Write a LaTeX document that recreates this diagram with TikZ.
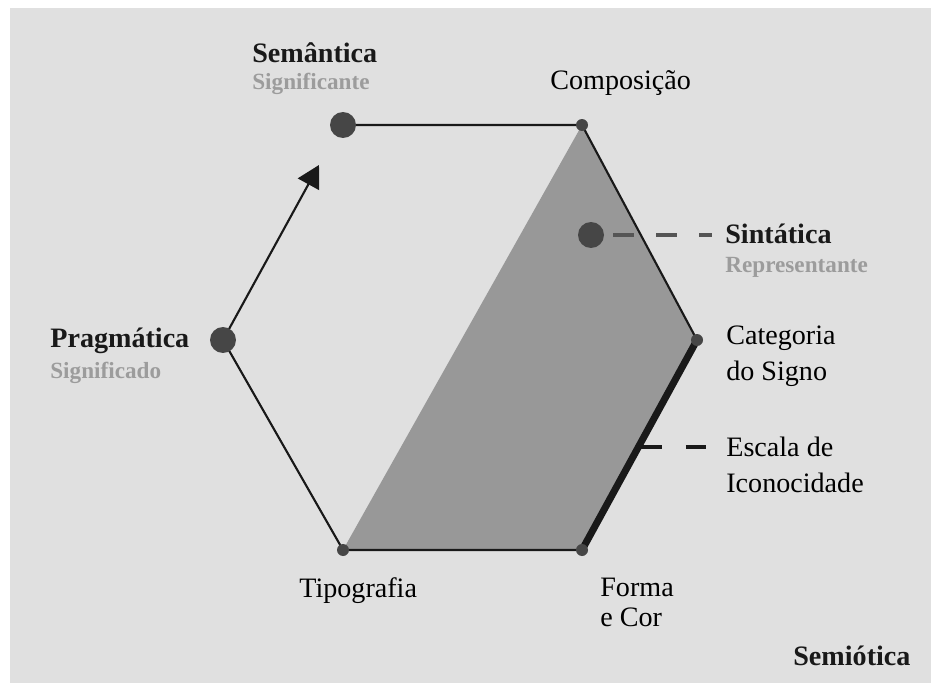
\documentclass[tikz,border=0pt]{standalone}
\usepackage{fontspec}
\setmainfont{Liberation Serif}
\usetikzlibrary{arrows.meta}

\definecolor{bggrey}{HTML}{E0E0E0}
\definecolor{shadegrey}{HTML}{989898}
\definecolor{dotgrey}{HTML}{464646}
\definecolor{subgrey}{HTML}{9C9C9C}
\definecolor{dashgrey}{HTML}{555555}

\tikzset{
    bigdot/.style={circle, fill=dotgrey, minimum size=0.52cm, inner sep=0pt},
    smalldot/.style={circle, fill=dotgrey, minimum size=0.24cm, inner sep=0pt},
    hexline/.style={line width=1.2pt, black!90},
    lbl/.style={anchor=base west, inner sep=0pt, align=left,
        font=\fontsize{16}{20}\selectfont},
    headlbl/.style={lbl, font=\fontsize{16}{20}\selectfont\bfseries, text=black!90},
    sublbl/.style={lbl, font=\fontsize{13.2}{15}\selectfont\bfseries, text=subgrey}
}

\begin{document}
\begin{tikzpicture}[x=0.02cm, y=-0.02cm]
    \useasboundingbox (0,0) rectangle (941,693);
    \fill[bggrey] (10,8) rectangle (931,683);

    % corners of the hexagon
    \coordinate (sem) at (343,125);
    \coordinate (comp) at (582,125);
    \coordinate (cat) at (697,340);
    \coordinate (forma) at (582,550);
    \coordinate (tipo) at (343,550);
    \coordinate (prag) at (223,340);
    \coordinate (arrtip) at (319,165);
    \coordinate (esc) at (640,447);

    % shaded part
    \fill[shadegrey] (comp) -- (cat) -- (forma) -- (tipo) -- cycle;

    % sides
    \draw[hexline] (sem) -- (comp) -- (cat);
    \draw[line width=4pt, black!90] (cat) -- (forma);
    \draw[hexline] (forma) -- (tipo) -- (prag);
    \draw[hexline, -{Triangle[length=0.44cm, width=0.48cm]}] (prag) -- (arrtip);

    % dots
    \node[bigdot] (semdot) at (sem) {};
    \node[bigdot] (pragdot) at (prag) {};
    \node[bigdot] (sindot) at (591,235) {};
    \node[smalldot] (compdot) at (comp) {};
    \node[smalldot] (catdot) at (cat) {};
    \node[smalldot] (formadot) at (forma) {};
    \node[smalldot] (tipodot) at (tipo) {};

    % labels (two-line ones sit on their last line)
    \node[headlbl] (semlbl) at (252,62) {Semântica};
    \node[sublbl] (semsub) at (252,90) {Significante};
    \node[lbl] (complbl) at (550,90) {Composição};
    \node[headlbl] (sinlbl) at (725,243) {Sintática};
    \node[sublbl] (sinsub) at (725,272) {Representante};
    \node[lbl] (catlbl) at (726,380) {Categoria\\do Signo};
    \node[lbl] (esclbl) at (726,492) {Escala de\\Iconocidade};
    \node[lbl] (tipolbl) at (299,597) {Tipografia};
    \node[lbl] (formalbl) at (600,626) {Forma\\[-3pt]e Cor};
    \node[headlbl] (praglbl) at (50,347) {Pragmática};
    \node[sublbl] (pragsub) at (50,378) {Significado};
    \node[headlbl] (semiolbl) at (793,665) {Semiótica};

    % dashed leaders
    \draw[dashgrey, line width=2.8pt, dash pattern=on 0.42cm off 0.44cm]
        ([xshift=0.18cm]sindot.east) -- ([xshift=-0.26cm]sindot -| sinlbl.west);
    \draw[black!90, line width=2.6pt, dash pattern=on 0.44cm off 0.48cm]
        (esc) -- ([xshift=-0.4cm]esc -| esclbl.west);
\end{tikzpicture}
\end{document}
